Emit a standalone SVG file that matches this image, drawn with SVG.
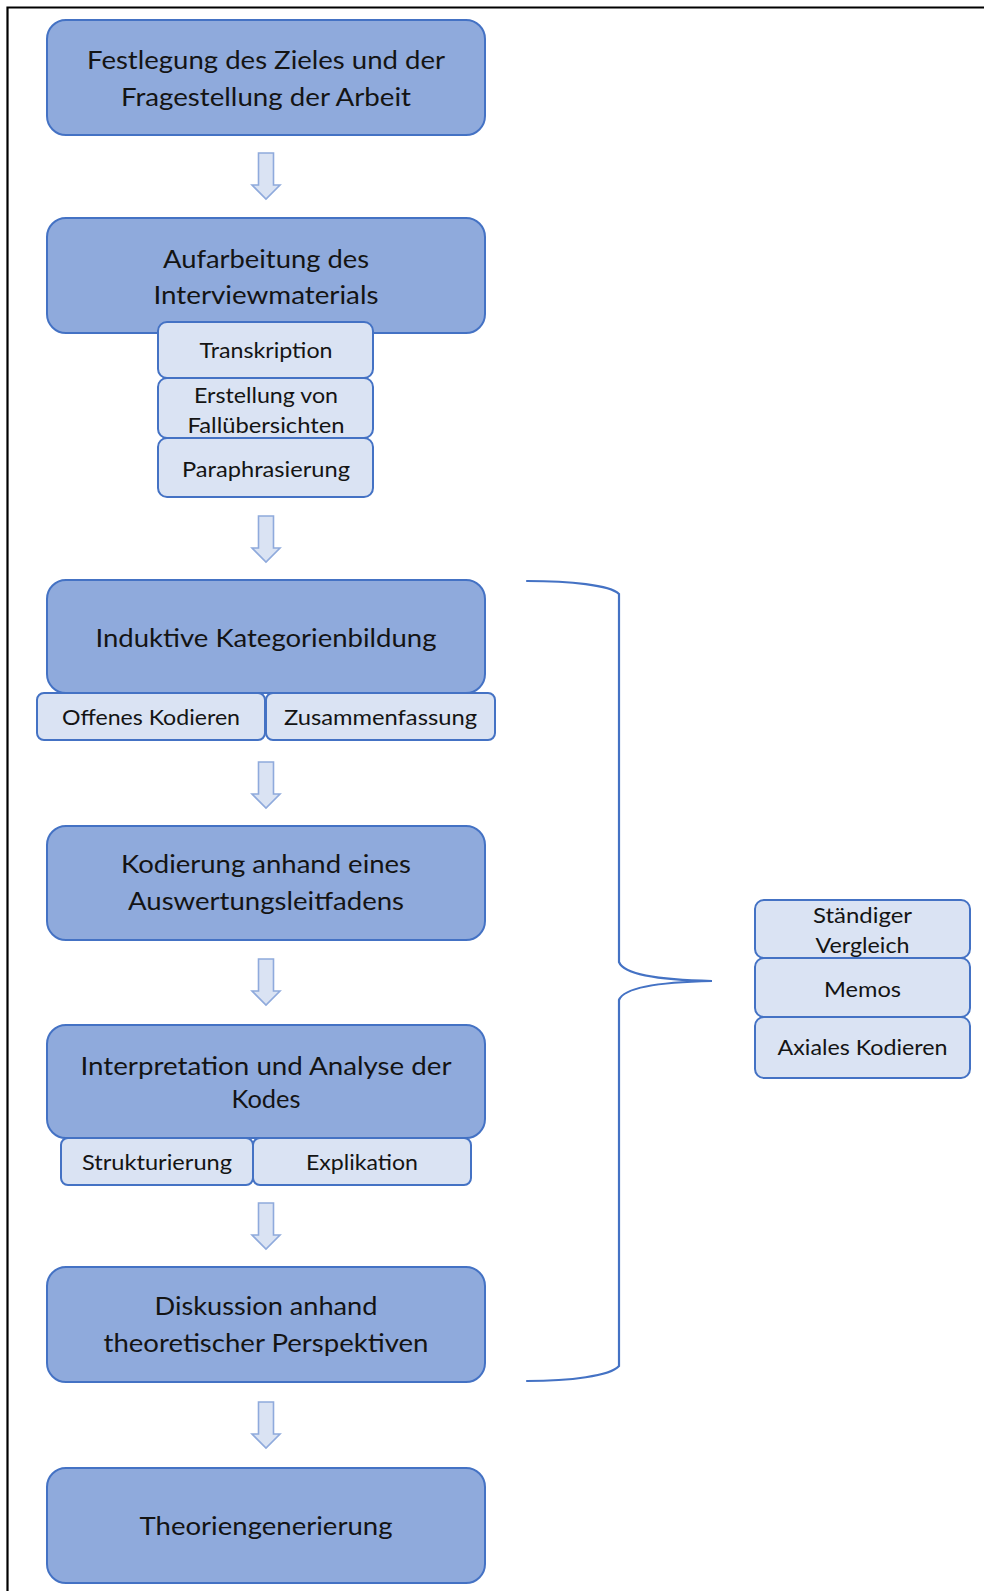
<svg xmlns="http://www.w3.org/2000/svg" width="984" height="1591" viewBox="0 0 984 1591">
  <style>
    .main { fill: #8faadc; stroke: #4472c4; stroke-width: 2; }
    .sub { fill: #dae3f3; stroke: #4472c4; stroke-width: 2; }
    .arrow { fill: #dae3f3; stroke: #8faadc; stroke-width: 1.6; stroke-linejoin: miter; }
    .brace { fill: none; stroke: #4472c4; stroke-width: 2.2; stroke-linecap: round; }
    .frame { fill: none; stroke: #000; stroke-width: 2.2; }
    text { font-family: Lato, "Liberation Sans", sans-serif; fill: #141414; text-anchor: middle; }
    .t1 { font-size: 25px; }
    .t2 { font-size: 21px; }
  </style>
  <defs>
    <path id="down" class="arrow" d="M -7.5 0 H 7.5 V 32 H 14 L 0 46 L -14 32 H -7.5 Z"/>
  </defs>

  <rect width="984" height="1591" fill="#fff"/>
  <path class="frame" d="M 7.5 1591 V 7.5 H 984"/>

  <!-- flow arrows and bracket -->
  <g id="connectors">
    <use href="#down" x="266" y="153"/>
    <use href="#down" x="266" y="516"/>
    <use href="#down" x="266" y="762"/>
    <use href="#down" x="266" y="959"/>
    <use href="#down" x="266" y="1203"/>
    <use href="#down" x="266" y="1402"/>
    <path class="brace" d="M 527 581 C 570 581 610 585 619 594 V 962 C 624 975 660 980 712 981 C 660 982 624 987 619 1000 V 1366 C 610 1376 570 1381 527 1381"/>
  </g>

  <g id="ziel">
    <rect class="main" x="47" y="20" width="438" height="115" rx="19"/>
    <text class="t1" x="266" y="69" textLength="358" lengthAdjust="spacingAndGlyphs">Festlegung des Zieles und der</text>
    <text class="t1" x="266" y="106" textLength="290" lengthAdjust="spacingAndGlyphs">Fragestellung der Arbeit</text>
  </g>

  <g id="aufarbeitung">
    <rect class="main" x="47" y="218" width="438" height="115" rx="19"/>
    <text class="t1" x="266" y="268" textLength="206" lengthAdjust="spacingAndGlyphs">Aufarbeitung des</text>
    <text class="t1" x="266" y="304" textLength="225" lengthAdjust="spacingAndGlyphs">Interviewmaterials</text>
  </g>
  <g id="transkription">
    <rect class="sub" x="158" y="322" width="215" height="56" rx="9"/>
    <text class="t2" x="266" y="358" textLength="133" lengthAdjust="spacingAndGlyphs">Transkription</text>
  </g>
  <g id="falluebersichten">
    <rect class="sub" x="158" y="378" width="215" height="60" rx="9"/>
    <text class="t2" x="266" y="403" textLength="144" lengthAdjust="spacingAndGlyphs">Erstellung von</text>
    <text class="t2" x="266" y="433" textLength="157" lengthAdjust="spacingAndGlyphs">Fallübersichten</text>
  </g>
  <g id="paraphrasierung">
    <rect class="sub" x="158" y="438" width="215" height="59" rx="9"/>
    <text class="t2" x="266" y="477" textLength="168" lengthAdjust="spacingAndGlyphs">Paraphrasierung</text>
  </g>

  <g id="kategorienbildung">
    <rect class="main" x="47" y="580" width="438" height="113" rx="19"/>
    <text class="t1" x="266" y="647" textLength="341" lengthAdjust="spacingAndGlyphs">Induktive Kategorienbildung</text>
  </g>
  <g id="offenes-kodieren">
    <rect class="sub" x="37" y="693" width="228" height="47" rx="7"/>
    <text class="t2" x="151" y="725" textLength="178" lengthAdjust="spacingAndGlyphs">Offenes Kodieren</text>
  </g>
  <g id="zusammenfassung">
    <rect class="sub" x="266" y="693" width="229" height="47" rx="7"/>
    <text class="t2" x="380.5" y="725" textLength="193" lengthAdjust="spacingAndGlyphs">Zusammenfassung</text>
  </g>

  <g id="kodierung">
    <rect class="main" x="47" y="826" width="438" height="114" rx="19"/>
    <text class="t1" x="266" y="873" textLength="290" lengthAdjust="spacingAndGlyphs">Kodierung anhand eines</text>
    <text class="t1" x="266" y="910" textLength="276" lengthAdjust="spacingAndGlyphs">Auswertungsleitfadens</text>
  </g>

  <g id="interpretation">
    <rect class="main" x="47" y="1025" width="438" height="113" rx="19"/>
    <text class="t1" x="266" y="1075" textLength="371" lengthAdjust="spacingAndGlyphs">Interpretation und Analyse der</text>
    <text class="t1" x="266" y="1108" textLength="69" lengthAdjust="spacingAndGlyphs">Kodes</text>
  </g>
  <g id="strukturierung">
    <rect class="sub" x="61" y="1138" width="192" height="47" rx="7"/>
    <text class="t2" x="157" y="1170" textLength="150" lengthAdjust="spacingAndGlyphs">Strukturierung</text>
  </g>
  <g id="explikation">
    <rect class="sub" x="253" y="1138" width="218" height="47" rx="7"/>
    <text class="t2" x="362" y="1170" textLength="112" lengthAdjust="spacingAndGlyphs">Explikation</text>
  </g>

  <g id="diskussion">
    <rect class="main" x="47" y="1267" width="438" height="115" rx="19"/>
    <text class="t1" x="266" y="1315" textLength="223" lengthAdjust="spacingAndGlyphs">Diskussion anhand</text>
    <text class="t1" x="266" y="1352" textLength="325" lengthAdjust="spacingAndGlyphs">theoretischer Perspektiven</text>
  </g>

  <g id="theoriengenerierung">
    <rect class="main" x="47" y="1468" width="438" height="115" rx="19"/>
    <text class="t1" x="266" y="1535" textLength="253" lengthAdjust="spacingAndGlyphs">Theoriengenerierung</text>
  </g>

  <g id="vergleich">
    <rect class="sub" x="755" y="900" width="215" height="58" rx="9"/>
    <text class="t2" x="862.5" y="923" textLength="99" lengthAdjust="spacingAndGlyphs">Ständiger</text>
    <text class="t2" x="862.5" y="953" textLength="94" lengthAdjust="spacingAndGlyphs">Vergleich</text>
  </g>
  <g id="memos">
    <rect class="sub" x="755" y="958" width="215" height="59" rx="9"/>
    <text class="t2" x="862.5" y="997" textLength="77" lengthAdjust="spacingAndGlyphs">Memos</text>
  </g>
  <g id="axiales-kodieren">
    <rect class="sub" x="755" y="1017" width="215" height="61" rx="9"/>
    <text class="t2" x="862.5" y="1055" textLength="170" lengthAdjust="spacingAndGlyphs">Axiales Kodieren</text>
  </g>
</svg>
